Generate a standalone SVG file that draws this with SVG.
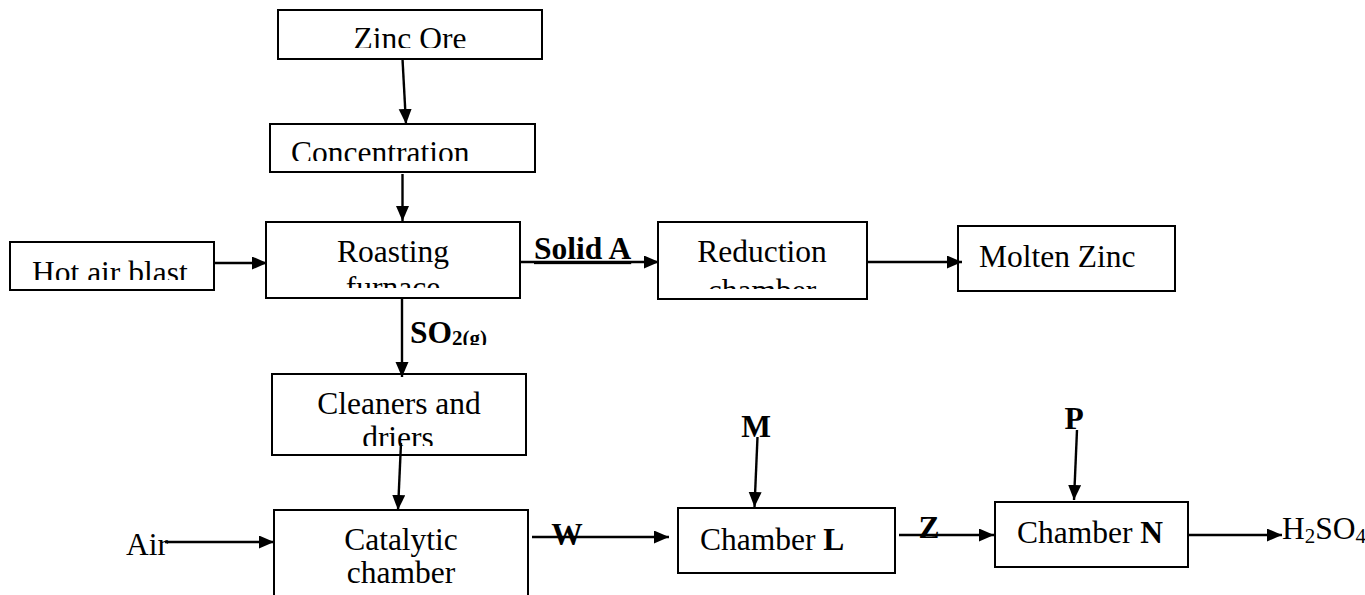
<svg xmlns="http://www.w3.org/2000/svg" width="1365" height="595" viewBox="0 0 1365 595">
<style>
.box{fill:#fff;stroke:#000;stroke-width:2}
.t{font-family:"Liberation Serif","Times New Roman",serif;font-size:31.5px;fill:#000}
.b{font-weight:bold}
.c{fill:none;stroke:#000;stroke-width:2.4}
</style>
<defs>
<marker id="ah" markerUnits="userSpaceOnUse" markerWidth="16" markerHeight="14" refX="15" refY="6.5" orient="auto">
<path d="M0,0 L15,6.5 L0,13 z" fill="#000"/>
</marker>
<clipPath id="cZinc"><rect x="278" y="10" width="264" height="38"/></clipPath>
<clipPath id="cConc"><rect x="270" y="124" width="265" height="37"/></clipPath>
<clipPath id="cRoast"><rect x="266" y="222" width="254" height="66"/></clipPath>
<clipPath id="cHot"><rect x="10" y="242" width="204" height="38"/></clipPath>
<clipPath id="cRed"><rect x="658" y="222" width="209" height="67"/></clipPath>
<clipPath id="cSO2"><rect x="405" y="300" width="100" height="45"/></clipPath>
<clipPath id="cClean"><rect x="272" y="374" width="254" height="72"/></clipPath>
</defs>
<rect width="1365" height="595" fill="#fff"/>

<g id="zinc-ore">
<rect class="box" x="278" y="10" width="264" height="49"/>
<text class="t" x="410" y="49" text-anchor="middle" clip-path="url(#cZinc)">Zinc Ore</text>
</g>
<g id="concentration">
<rect class="box" x="270" y="124" width="265" height="48"/>
<text class="t" x="291" y="163" clip-path="url(#cConc)">Concentration</text>
</g>
<g id="hot-air-blast">
<rect class="box" x="10" y="242" width="204" height="48"/>
<text class="t" x="32" y="283" clip-path="url(#cHot)">Hot air blast</text>
</g>
<g id="roasting-furnace">
<rect class="box" x="266" y="222" width="254" height="76"/>
<g clip-path="url(#cRoast)">
<text class="t" x="393" y="262" text-anchor="middle">Roasting</text>
<text class="t" x="393" y="298" text-anchor="middle">furnace</text>
</g>
</g>
<g id="reduction-chamber">
<rect class="box" x="658" y="222" width="209" height="77"/>
<g clip-path="url(#cRed)">
<text class="t" x="762" y="262" text-anchor="middle">Reduction</text>
<text class="t" x="762" y="301" text-anchor="middle">chamber</text>
</g>
</g>
<g id="molten-zinc">
<rect class="box" x="958" y="226" width="217" height="65"/>
<text class="t" x="979" y="267">Molten Zinc</text>
</g>
<g id="cleaners-driers">
<rect class="box" x="272" y="374" width="254" height="81"/>
<g clip-path="url(#cClean)">
<text class="t" x="399" y="414" text-anchor="middle">Cleaners and</text>
<text class="t" x="398" y="448" text-anchor="middle">driers</text>
</g>
</g>
<g id="catalytic-chamber">
<rect class="box" x="274" y="510" width="254" height="95"/>
<text class="t" x="401" y="550" text-anchor="middle">Catalytic</text>
<text class="t" x="401" y="583" text-anchor="middle">chamber</text>
</g>
<g id="air">
<text class="t" x="126" y="555">Air</text>
</g>
<g id="chamber-l">
<rect class="box" x="678" y="508" width="217" height="65"/>
<text class="t" x="700" y="550">Chamber <tspan class="b">L</tspan></text>
</g>
<g id="chamber-n">
<rect class="box" x="995" y="502" width="193" height="65"/>
<text class="t" x="1017" y="543">Chamber <tspan class="b">N</tspan></text>
</g>
<g id="m-input">
<text class="t b" x="756" y="437" text-anchor="middle">M</text>
</g>
<g id="p-input">
<text class="t b" x="1074" y="429" text-anchor="middle">P</text>
</g>
<g id="h2so4">
<text class="t" x="1282" y="539">H<tspan font-size="21" dy="4">2</tspan><tspan dy="-4">SO</tspan><tspan font-size="21" dy="4">4</tspan></text>
</g>

<g id="connectors">
<line class="c" x1="402.5" y1="59" x2="406" y2="124" marker-end="url(#ah)"/>
<line class="c" x1="402.5" y1="174" x2="402.5" y2="221" marker-end="url(#ah)"/>
<line class="c" x1="213" y1="263" x2="267" y2="263" marker-end="url(#ah)"/>
<line class="c" x1="521" y1="262" x2="659" y2="262" marker-end="url(#ah)"/>
<line class="c" x1="867" y1="262" x2="962" y2="262" marker-end="url(#ah)"/>
<line class="c" x1="402" y1="299" x2="402" y2="377" marker-end="url(#ah)"/>
<line class="c" x1="401" y1="443" x2="398" y2="510" marker-end="url(#ah)"/>
<line class="c" x1="165" y1="542" x2="274" y2="542" marker-end="url(#ah)"/>
<line class="c" x1="532" y1="537" x2="669" y2="537" marker-end="url(#ah)"/>
<line class="c" x1="757.5" y1="437" x2="754.5" y2="507" marker-end="url(#ah)"/>
<line class="c" x1="899" y1="535" x2="994" y2="535" marker-end="url(#ah)"/>
<line class="c" x1="1077" y1="430" x2="1074" y2="500" marker-end="url(#ah)"/>
<line class="c" x1="1188" y1="535" x2="1282" y2="535" marker-end="url(#ah)"/>
</g>

<g id="labels">
<text class="t b" x="534" y="259" text-decoration="underline">Solid A</text>
<text class="t b" x="410" y="343" clip-path="url(#cSO2)">SO<tspan font-size="21" dy="2">2(g)</tspan></text>
<text class="t b" x="567" y="545" text-anchor="middle">W</text>
<text class="t b" x="929" y="538" text-anchor="middle">Z</text>
</g>
</svg>
